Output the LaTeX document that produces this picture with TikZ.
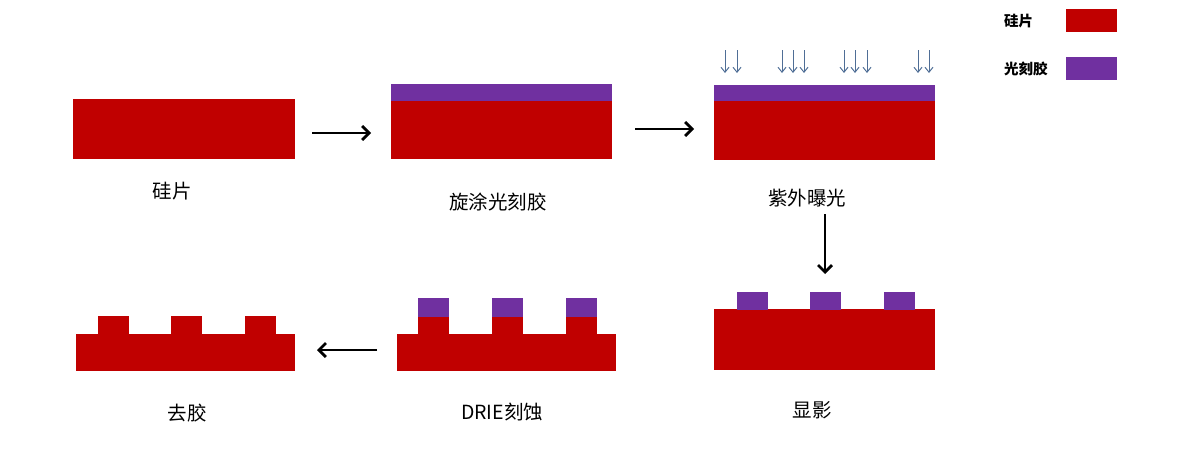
\documentclass[tikz,border=0pt]{standalone}
\usepackage{fontspec}
\setmainfont{Noto Sans CJK SC}
\usetikzlibrary{arrows.meta}
\definecolor{siRed}{HTML}{C00000}
\definecolor{prPurple}{HTML}{7030A0}
\definecolor{uvBlue}{HTML}{4F6E96}
\tikzset{
  si/.style={fill=siRed, draw=none},
  pr/.style={fill=prPurple, draw=none},
  flow/.style={line width=2.8pt, -{Straight Barb[length=7pt,width=14pt,line width=2.8pt]}},
  uv/.style={uvBlue, line width=1pt, -{Straight Barb[length=5pt,width=8pt]}},
  lbl/.style={font=\fontsize{19.5}{20}\selectfont, inner sep=0pt},
  leg/.style={font=\fontsize{14.5}{15}\selectfont\bfseries, inner sep=0pt, anchor=west},
}
\begin{document}
\begin{tikzpicture}[x=1pt,y=-1pt]
\useasboundingbox (0,0) rectangle (1181,463);
% 1 silicon wafer
\path[si] (73,99) rectangle (295,159);
\node[lbl] (t1) at (172,191) {硅片};
% 2 spin coat
\path[si] (391,100) rectangle (612,159);
\path[pr] (391,84) rectangle (612,100.5);
\node[lbl] (t2) at (498,202) {旋涂光刻胶};
% 3 UV exposure
\path[si] (714,100) rectangle (935,160);
\path[pr] (714,85) rectangle (935,100.5);
\node[lbl] (t3) at (807,198) {紫外曝光};
\foreach \x in {725,737,782,793,804,844,855,867,918,929}{
  \coordinate (u\x a) at (\x,50);
  \coordinate (u\x b) at (\x,73);
  \draw[uv] (u\x a) -- (u\x b);
}
% 4 development
\path[si] (714,309) rectangle (935,370);
\foreach \x in {737,810,884}{\path[pr] (\x,292) rectangle (\x+31,309.5);}
\node[lbl] (t4) at (812,410) {显影};
% 5 DRIE
\path[si] (397,334) rectangle (616,371);
\foreach \x in {418,492,566}{
  \path[si] (\x,316) rectangle (\x+31,334.5);
  \path[pr] (\x,298) rectangle (\x+31,316.5);
}
\node[lbl] (t5) at (502,412) {DRIE刻蚀};
% 6 strip
\path[si] (76,334) rectangle (295,371);
\foreach \x in {98,171,245}{\path[si] (\x,316) rectangle (\x+31,334.5);}
\node[lbl] (t6) at (187,413) {去胶};
% flow arrows
\coordinate (a1s) at (312,133); \coordinate (a1e) at (371,133);
\coordinate (a2s) at (635,129); \coordinate (a2e) at (694,129);
\coordinate (a3s) at (825,214); \coordinate (a3e) at (825,274);
\coordinate (a4s) at (377,350); \coordinate (a4e) at (317,350);
\draw[flow] (a1s) -- (a1e);
\draw[flow] (a2s) -- (a2e);
\draw[flow] (a3s) -- (a3e);
\draw[flow] (a4s) -- (a4e);
% legend
\node[leg] (l1) at (1004,21) {硅片};
\path[si] (1066,9) rectangle (1117,32);
\node[leg] (l2) at (1004,69) {光刻胶};
\path[pr] (1066,57) rectangle (1117,80);
\end{tikzpicture}
\end{document}
